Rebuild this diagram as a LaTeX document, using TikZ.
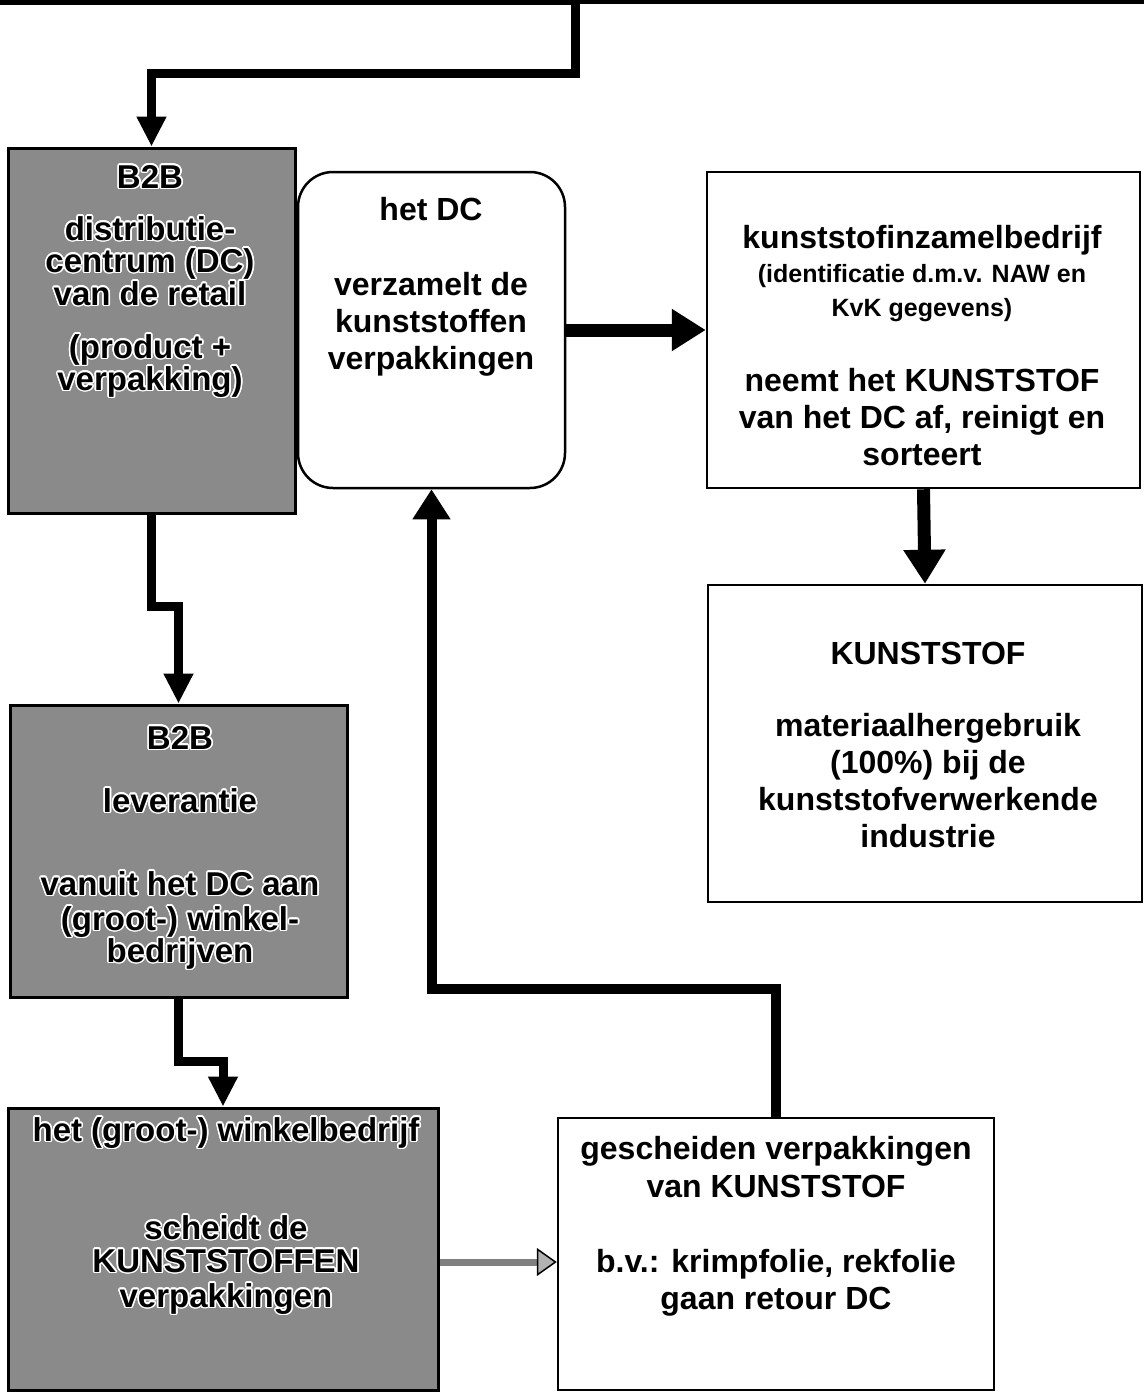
\documentclass[tikz,border=0pt]{standalone}
\usepackage{fontspec}
\setmainfont{Liberation Sans}
\usepackage{contour}
\contourlength{1.6pt}
\usetikzlibrary{arrows.meta}
\newcommand\wl[1]{\contour{white}{#1}}
\newcommand\fl{\rule{0pt}{26pt}}
\tikzset{
  wbox/.style={draw=black, line width=2.5pt, fill=white, inner sep=0pt},
  gbox/.style={draw=black, line width=3pt, fill=black!46, inner sep=0pt},
  txt/.style={align=center, inner sep=0pt, anchor=north, font=\bfseries\fontsize{32}{37}\selectfont},
  gtxt/.style={align=center, inner sep=0pt, anchor=north, font=\bfseries\fontsize{33}{33}\selectfont},
  conn/.style={line width=9pt, line join=miter, -{Triangle[length=30pt,width=28pt]}},
  bigarrow/.style={line width=13pt, -{Triangle[length=34pt,width=40pt]}},
  uparrow/.style={line width=10pt, line join=miter, -{Triangle[length=30pt,width=36pt]}},
  garrow/.style={draw=black!50, line width=7pt, -{Triangle[length=20pt,width=28pt,fill=black!30,color=black,line width=1.5pt]}}
}
\begin{document}
\begin{tikzpicture}[x=1pt,y=-1pt]
\useasboundingbox (0,0) rectangle (1144,1393);
% top edge
\draw[line width=5pt] (0,2) -- (575,2);
\draw[line width=3.5pt] (575,2) -- (1144,2);
\coordinate (topsrc) at (575,0);
% boxes
\node[gbox, minimum width=287pt, minimum height=365pt] (A) at (151.5,330.5) {};
\node[draw=black, line width=2.5pt, rounded corners=35pt, fill=white, inner sep=0pt, minimum width=267pt, minimum height=316pt] (DC) at (431.5,330) {};
\node[wbox, minimum width=433pt, minimum height=316pt] (K) at (923.5,330) {};
\node[wbox, minimum width=434pt, minimum height=317pt] (KS) at (925,743.5) {};
\node[gbox, minimum width=337pt, minimum height=292pt] (B) at (178.5,851) {};
\node[gbox, minimum width=430pt, minimum height=282pt] (C) at (223,1249) {};
\node[wbox, minimum width=436pt, minimum height=272pt] (D) at (776,1254) {};
% texts
\node[gtxt] (tA) at (150,162) {\fl\wl{B2B}\\[19pt]\wl{distributie-}\\[-1pt]\wl{centrum (DC)}\\\wl{van de retail}\\[20pt]\wl{(product +}\\[-1pt]\wl{verpakking)}};
\node[txt] (tDC) at (431,194) {\fl het DC\\[38pt]verzamelt de\\kunststoffen\\verpakkingen};
\node[txt] (tK) at (922,222) {\fl kunststofinzamelbedrijf\\[-2.5pt]{\fontsize{25}{34}\selectfont(identificatie d.m.v. NAW en}\\[-3pt]{\fontsize{25}{34}\selectfont KvK gegevens)}\\[37.5pt]neemt het KUNSTSTOF\\van het DC af, reinigt en\\sorteert};
\node[txt] (tKS) at (928,638) {\fl KUNSTSTOF\\[35pt]materiaalhergebruik\\(100\%) bij de\\kunststofverwerkende\\industrie};
\node[gtxt] (tB) at (180,723) {\fl\wl{B2B}\\[30pt]\wl{leverantie}\\[50pt]\wl{vanuit het DC aan}\\[2pt]\wl{(groot-) winkel-}\\[-1pt]\wl{bedrijven}};
\node[gtxt] (tC) at (226,1115) {\fl\wl{het (groot-) winkelbedrijf}\\[65pt]\wl{scheidt de}\\\wl{KUNSTSTOFFEN}\\[2pt]\wl{verpakkingen}};
\node[txt] (tD) at (776,1133) {\fl gescheiden verpakkingen\\[1pt]van KUNSTSTOF\\[38pt]b.v.: krimpfolie, rekfolie\\gaan retour DC};
% connectors
\draw[conn] (topsrc) |- ([yshift=73pt]A.north) -- (A.north);
\draw[conn] (A.south) -- ++(0,92) -| (B.north);
\draw[conn] (B.south) -- ++(0,63) -| (C.north);
\draw[garrow] ([yshift=-13pt]C.east) -- ([yshift=-13pt]C.east -| D.west);
\draw[bigarrow] (DC.east) -- (K.west);
\draw[bigarrow] (K.south) -- (KS.north);
\draw[uparrow] (D.north) -- ++(0,-128) -| (DC.south);
\end{tikzpicture}
\end{document}
